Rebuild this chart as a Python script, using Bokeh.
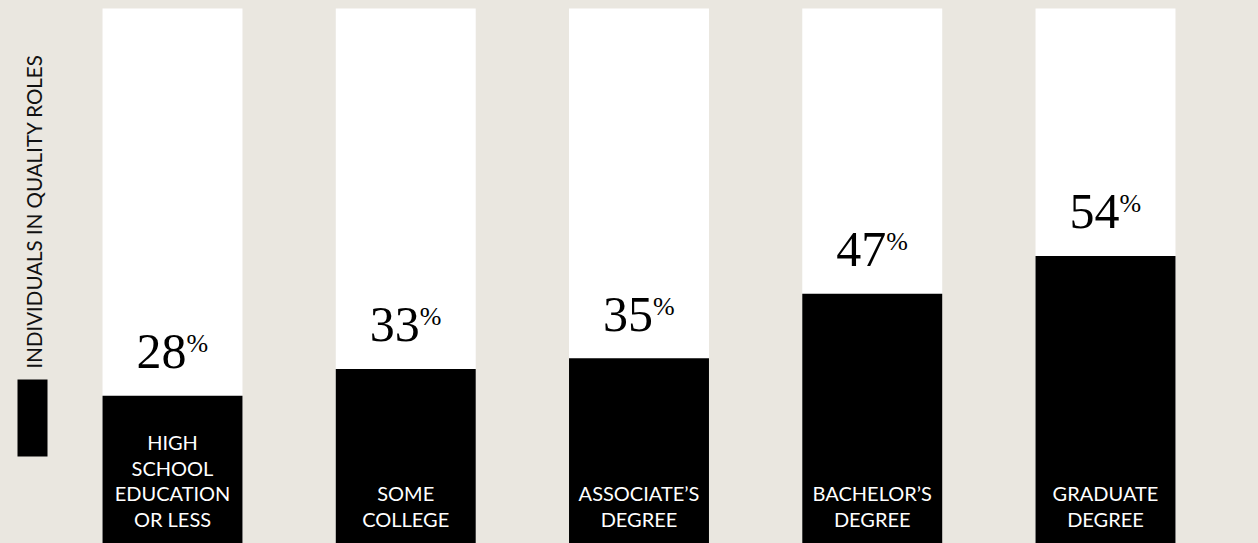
import numpy as np
from bokeh.plotting import figure
from bokeh.models import Range1d, ColumnDataSource
from bokeh.core.properties import value
from bokeh.embed import file_html
from bokeh.resources import INLINE

# ---- data ----
categories = ["HIGH\nSCHOOL\nEDUCATION\nOR LESS", "SOME\nCOLLEGE", "ASSOCIATE\u2019S\nDEGREE",
              "BACHELOR\u2019S\nDEGREE", "GRADUATE\nDEGREE"]
shares = [28, 33, 35, 47, 54]
full = [100, 100, 100, 100, 100]
legend_label = "INDIVIDUALS IN QUALITY ROLES"

BG = "#EAE7E0"
SANS = "Lato"
SERIF = "Liberation Serif"

W, H = 1258, 543
XPU = 233.25          # pixels per category unit
YPU = 5.38            # pixels per percent
TOP = 8               # pixel row of the 100% line
x0 = -172 / XPU
x1 = x0 + W / XPU
y1 = 100 + TOP / YPU
y0 = y1 - H / YPU

def px_x(px):
    return x0 + px / XPU

def px_y(py):
    return y1 - py / YPU

p = figure(width=W, height=H, output_backend="svg", toolbar_location=None,
           x_range=Range1d(x0, x1), y_range=Range1d(y0, y1), min_border=0)
p.background_fill_color = BG
p.border_fill_color = BG
p.outline_line_color = None
p.grid.visible = False
p.axis.visible = False

xs = list(range(len(categories)))
src = ColumnDataSource(dict(x=xs, full=full, share=shares,
                            num=[str(v) for v in shares], pct=["%"] * len(shares)))

p.vbar(x="x", top="full", bottom=-5, width=0.6, source=src, fill_color="white", line_color=None)
p.vbar(x="x", top="share", bottom=-5, width=0.6, source=src, fill_color="black", line_color=None)

# percentage numbers
p.text(x="x", y="share", text="num", source=src, text_font=value(SERIF), text_font_size="50px",
       text_color="black", text_align="right", text_baseline="alphabetic", x_offset=14, y_offset=-44)
p.text(x="x", y="share", text="pct", source=src, text_font=value(SERIF), text_font_size="26px",
       text_color="black", text_align="left", text_baseline="alphabetic", x_offset=14, y_offset=-52)

# category labels (white, bottom-aligned lines)
lx, ly, lt, lo = [], [], [], []
for i, c in enumerate(categories):
    lines = c.split("\n")
    n = len(lines)
    for j, line in enumerate(lines):
        k = n - 1 - j
        lx.append(i)
        ly.append(px_y(518))
        lt.append(line)
        lo.append(-25.5 * k)
lsrc = ColumnDataSource(dict(x=lx, y=ly, t=lt, o=lo))
p.text(x="x", y="y", text="t", y_offset="o", source=lsrc, text_font=value(SANS),
       text_font_size="20px", text_color="white", text_align="center", text_baseline="alphabetic")

# legend
p.quad(left=[px_x(17)], right=[px_x(47)], top=[px_y(379)], bottom=[px_y(456)],
       fill_color="black", line_color=None)
p.text(x=[px_x(33)], y=[px_y(368)], text=[legend_label], angle=np.pi / 2,
       text_font=value(SANS), text_font_size="20.5px", text_color="#111111",
       text_align="left", text_baseline="alphabetic")

html = file_html(p, INLINE)
html = html.replace("</head>", "<style>html,body{background:%s;}</style></head>" % BG)
open("out.html", "w").write(html)
